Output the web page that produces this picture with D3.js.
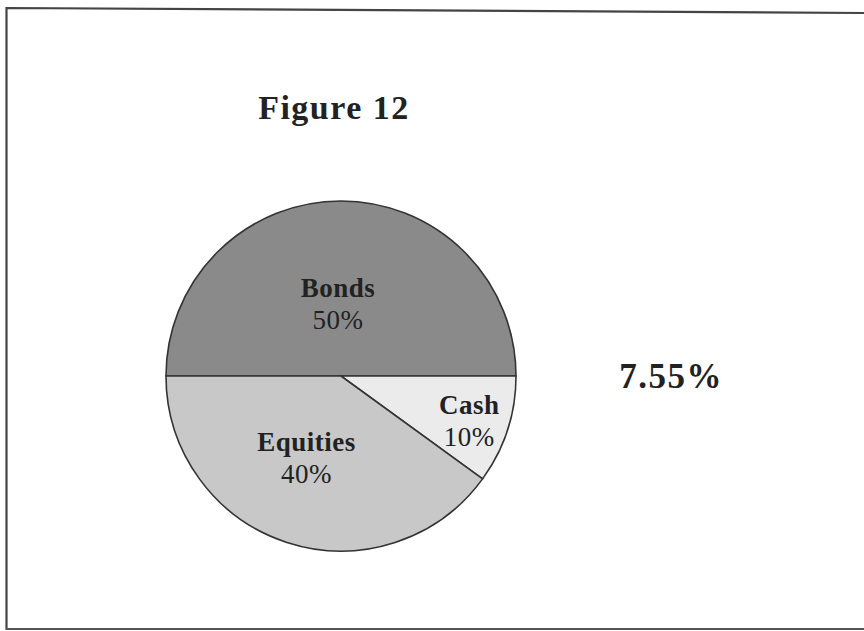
<!DOCTYPE html>
<html>
<head>
<meta charset="utf-8">
<script src="https://cdn.jsdelivr.net/npm/d3@7"></script>
<style>
  body { margin: 0; background: #fff; }
  svg { display: block; }
</style>
</head>
<body>
<div id="chart"></div>
<script>
// data
const categories = ["Bonds", "Cash", "Equities"]
const shares = [50, 10, 40]
const title = "Figure 12"
const returnLabel = "7.55%"

const width = 864, height = 631
const serif = "'Liberation Serif', 'Times New Roman', serif"

const svg = d3.select("#chart")
    .append("svg")
    .attr("width", width)
    .attr("height", height)

// scanned page frame (slightly skewed top edge)
svg.append("path")
    .attr("d", "M6.5,630 L6.5,8 L864,13")
    .attr("fill", "none")
    .attr("stroke", "#444")
    .attr("stroke-width", 2.2)
svg.append("line")
    .attr("x1", 6).attr("x2", 864)
    .attr("y1", 629).attr("y2", 629)
    .attr("stroke", "#555")
    .attr("stroke-width", 2)

svg.append("text")
    .attr("x", 334).attr("y", 119)
    .attr("text-anchor", "middle")
    .style("font-family", serif)
    .style("font-weight", "bold")
    .style("font-size", "34px")
    .style("letter-spacing", "1.5px")
    .attr("fill", "#222")
    .text(title)

svg.append("text")
    .attr("x", 671).attr("y", 388)
    .attr("text-anchor", "middle")
    .style("font-family", serif)
    .style("font-weight", "bold")
    .style("font-size", "35px")
    .style("letter-spacing", "1.5px")
    .attr("fill", "#222")
    .text(returnLabel)

// pie
const cx = 341, cy = 376, r = 175

const color = d3.scaleOrdinal()
    .domain(categories)
    .range(["#8a8a8a", "#ebebeb", "#c8c8c8"])

// how far out (fraction of radius) each label sits, and a small angle nudge
const labelRadius = { Bonds: 0.43, Cash: 0.77, Equities: 0.49 }
const labelNudge = { Bonds: -0.04, Cash: 0, Equities: 0.1 }

const pie = d3.pie()
    .sort(null)
    .value(d => d.value)
    .startAngle(-Math.PI / 2)
    .endAngle(Math.PI * 1.5)

const arcs = pie(categories.map((c, i) => ({ name: c, value: shares[i] })))

const arc = d3.arc().innerRadius(0).outerRadius(r)

const g = svg.append("g")
    .attr("transform", `translate(${cx},${cy})`)

g.selectAll("path")
    .data(arcs)
    .join("path")
    .attr("d", arc)
    .attr("fill", d => color(d.data.name))
    .attr("stroke", "#333")
    .attr("stroke-width", 1.6)

const labels = g.selectAll("g.label")
    .data(arcs)
    .join("g")
    .attr("class", "label")
    .attr("transform", d => {
        const a = (d.startAngle + d.endAngle) / 2 + labelNudge[d.data.name]
        const rr = r * labelRadius[d.data.name]
        return `translate(${rr * Math.sin(a)},${-rr * Math.cos(a)})`
    })
    .style("font-family", serif)
    .attr("text-anchor", "middle")
    .attr("fill", "#222")

labels.append("text")
    .attr("y", -4)
    .style("font-weight", "bold")
    .style("font-size", "27px")
    .style("letter-spacing", "0.5px")
    .text(d => d.data.name)

labels.append("text")
    .attr("y", 28)
    .style("font-size", "27px")
    .style("letter-spacing", "0.5px")
    .text(d => d.data.value + "%")
</script>
</body>
</html>
